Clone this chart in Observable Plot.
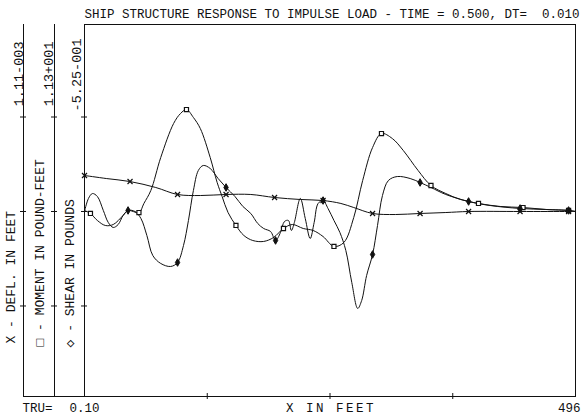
<!DOCTYPE html>
<html>
<head>
<meta charset="utf-8">
<script src="https://cdn.jsdelivr.net/npm/d3@7"></script>
<script src="https://cdn.jsdelivr.net/npm/@observablehq/plot@0.6"></script>
<style>
  body { margin: 0; background: #fff; }
  svg text { white-space: pre; }
</style>
</head>
<body>
<div id="chart"></div>
<script>
// Hull stations along the ship (feet) and responses, in axis divisions.
const deflFeet   = [0, 22, 46, 72, 94, 117, 143, 168, 192, 218, 241, 259, 272, 291, 314, 339, 365, 388, 440, 489, 496];
const deflValue  = [0.381, 0.349, 0.317, 0.254, 0.18, 0.169, 0.18, 0.18, 0.148, 0.127, 0.116, 0.085, 0.042, -0.021, -0.032, -0.021, -0.011, 0, 0, 0, 0];

const momentFeet  = [0, 6, 13, 21, 29, 39, 44, 55, 60, 67, 77, 90, 97, 103, 110, 117, 127, 134, 139, 145, 153, 161, 170, 181, 191, 201, 210, 221, 231, 241, 252, 262, 272, 281, 291, 300, 311, 322, 337, 350, 365, 380, 398, 420, 443, 467, 489, 496];
const momentValue = [0.011, -0.021, -0.095, -0.148, -0.138, -0.042, 0.011, -0.011, 0.085, 0.222, 0.571, 0.931, 1.037, 1.079, 0.995, 0.878, 0.571, 0.307, 0.159, -0.011, -0.148, -0.254, -0.307, -0.317, -0.275, -0.18, -0.138, -0.18, -0.201, -0.265, -0.37, -0.328, -0.063, 0.328, 0.677, 0.825, 0.772, 0.646, 0.434, 0.275, 0.19, 0.127, 0.085, 0.053, 0.042, 0.021, 0.011, 0];

const shearFeet  = [0, 4, 8, 13, 19, 24, 29, 34, 39, 44, 51, 57, 63, 69, 77, 87, 94, 100, 105, 110, 115, 120, 127, 135, 143, 152, 160, 168, 175, 181, 188, 193, 198, 202, 206, 209, 212, 218, 223, 228, 232, 236, 241, 246, 252, 258, 264, 270, 276, 280, 285, 291, 296, 301, 307, 316, 329, 339, 350, 365, 388, 410, 440, 466, 489, 496];
const shearValue = [0, 0.138, 0.19, 0.159, 0.011, -0.116, -0.169, -0.138, -0.042, 0.011, 0, -0.074, -0.254, -0.466, -0.55, -0.582, -0.54, -0.36, -0.095, 0.222, 0.434, 0.487, 0.455, 0.349, 0.254, 0.159, 0.053, -0.021, -0.127, -0.18, -0.212, -0.307, -0.222, -0.106, -0.095, -0.201, -0.116, 0.138, -0.074, -0.286, -0.116, 0.085, 0.116, 0.032, -0.095, -0.222, -0.413, -0.751, -1.026, -0.942, -0.677, -0.455, -0.148, 0.169, 0.328, 0.37, 0.349, 0.307, 0.254, 0.18, 0.106, 0.063, 0.032, 0.021, 0.011, 0];

// Stations where each curve carries its symbol
const deflMarks   = [0, 46, 94, 143, 192, 241, 291, 339, 388, 440, 489];
const momentMarks = [6, 55, 103, 153, 201, 252, 300, 350, 398, 443, 489];
const shearMarks  = [44, 94, 143, 193, 241, 291, 339, 388, 440, 489];

// Axis ticks and texts
const xTicks = [124, 248, 372];
const yTicks = [-1, 0, 1];
const titleText = "SHIP STRUCTURE RESPONSE TO IMPULSE LOAD - TIME = 0.500, DT=  0.010";
const scaleLabels = ["1.11-003", "1.13+001", "-5.25-001"];
const seriesLabels = ["X - DEFL. IN FEET", "\u25A1 - MOMENT IN POUND-FEET", "\u25C7 - SHEAR IN POUNDS"];
const xTitle = "X IN FEET";
const xEndLabel = "496";
const truLabel = "TRU=";
const truValue = "0.10";

const rows = (feet, vals) => feet.map((x, i) => ({x, y: vals[i]}));
const pick = (data, stations) => data.filter(d => stations.includes(d.x));

const defl = rows(deflFeet, deflValue);
const moment = rows(momentFeet, momentValue);
const shear = rows(shearFeet, shearValue);

const font = "'Liberation Mono', 'DejaVu Sans Mono', monospace";
const ink = "#111";
const yLow = -1.958, yHigh = 1.979;

const label = (text, opts) => Plot.text([text], {text: d => d, fontFamily: font, fontSize: 12.5, fill: ink, ...opts});

// Offsets of the three stacked vertical axes left of the frame
const axisShift = [-61, -30, 0];

const chart = Plot.plot({
  width: 583,
  height: 417,
  marginLeft: 84,
  marginRight: 8,
  marginTop: 24,
  marginBottom: 21,
  x: {domain: [0, 496], axis: null},
  y: {domain: [yLow, yHigh], axis: null},
  style: {background: "#fff", overflow: "visible"},
  marks: [
    Plot.frame({stroke: ink}),
    Plot.ruleX([0], {dx: axisShift[0], stroke: ink}),
    Plot.ruleX([0], {dx: axisShift[1], stroke: ink}),
    Plot.ruleY([yLow], {insetLeft: axisShift[0], stroke: ink}),
    ...axisShift.map(s => Plot.ruleY(yTicks, {x1: 0, x2: 0, insetLeft: -3, insetRight: -3, dx: s, stroke: ink})),
    Plot.ruleX(xTicks, {y1: yLow, y2: yLow, insetTop: -3, insetBottom: -3, stroke: ink}),

    Plot.line(defl, {x: "x", y: "y", curve: "catmull-rom", stroke: ink, strokeWidth: 1}),
    Plot.line(moment, {x: "x", y: "y", curve: "catmull-rom", stroke: ink, strokeWidth: 1}),
    Plot.line(shear, {x: "x", y: "y", curve: "catmull-rom", stroke: ink, strokeWidth: 1}),

    Plot.dot(pick(defl, deflMarks), {x: "x", y: "y", symbol: "times", r: 2.4, stroke: ink, strokeWidth: 1.2}),
    Plot.dot(pick(moment, momentMarks), {x: "x", y: "y", symbol: "square", r: 2.3, stroke: ink, fill: "#fff", strokeWidth: 1.2}),
    Plot.dot(pick(shear, shearMarks), {x: "x", y: "y", symbol: "diamond", r: 2.3, stroke: ink, fill: ink, strokeWidth: 1}),

    label(titleText, {frameAnchor: "top-left", textAnchor: "start", lineAnchor: "bottom", dy: -7}),

    label(scaleLabels[0], {frameAnchor: "top-left", rotate: -90, textAnchor: "end", fontSize: 13.5, dx: -71, dy: 17}),
    label(scaleLabels[1], {frameAnchor: "top-left", rotate: -90, textAnchor: "end", fontSize: 13.5, dx: -41, dy: 17}),
    label(scaleLabels[2], {frameAnchor: "top-left", rotate: -90, textAnchor: "end", fontSize: 13.5, dx: -13, dy: 14}),

    label(seriesLabels[0], {frameAnchor: "bottom-left", rotate: -90, textAnchor: "start", fontSize: 13, dx: -70, dy: -53}),
    label(seriesLabels[1], {frameAnchor: "bottom-left", rotate: -90, textAnchor: "start", fontSize: 13, dx: -41, dy: -50}),
    label(seriesLabels[2], {frameAnchor: "bottom-left", rotate: -90, textAnchor: "start", fontSize: 13, dx: -11, dy: -49}),

    label(truLabel, {frameAnchor: "bottom-left", textAnchor: "start", lineAnchor: "bottom", dx: -62, dy: 15}),
    label(truValue, {frameAnchor: "bottom-left", textAnchor: "start", lineAnchor: "bottom", dx: -15, dy: 15}),
    label(xTitle, {frameAnchor: "bottom", textAnchor: "middle", lineAnchor: "bottom", dx: 1, dy: 15}),
    label(xEndLabel, {frameAnchor: "bottom-right", textAnchor: "end", lineAnchor: "bottom", dx: 5, dy: 15})
  ]
});

// The axis caption under the frame is set with wider spacing
d3.select(chart).selectAll("text")
  .filter(function () { return this.textContent === xTitle; })
  .attr("letter-spacing", "2.5px");

document.getElementById("chart").append(chart);
</script>
</body>
</html>
